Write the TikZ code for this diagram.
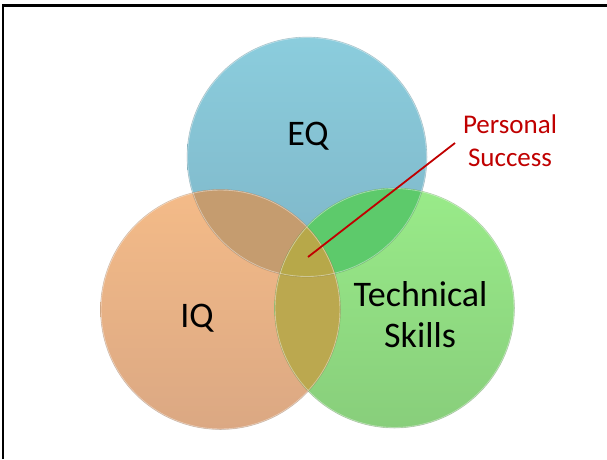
\documentclass[tikz,border=0pt]{standalone}
\usepackage{fontspec}
\setmainfont{Carlito}
\definecolor{eqtop}{HTML}{8BCDDD}
\definecolor{eqbot}{HTML}{7EB5C7}
\definecolor{iqtop}{HTML}{F4BB88}
\definecolor{iqbot}{HTML}{DBA883}
\definecolor{tstop}{HTML}{99EB89}
\definecolor{tsbot}{HTML}{88CE7B}
\definecolor{eqiq}{HTML}{C59C6F}
\definecolor{eqts}{HTML}{5DCA6B}
\definecolor{iqts}{HTML}{BBA84F}
\definecolor{trip}{HTML}{B7A849}
\definecolor{psred}{HTML}{C00000}
\begin{document}
\begin{tikzpicture}[x=1pt,y=-1pt,
  lbl/.style={font=\fontsize{36}{40}\selectfont, text=black, inner sep=0pt, anchor=base},
  pslbl/.style={font=\fontsize{27}{33}\selectfont, text=psred, inner sep=0pt, anchor=base},
  rim/.style={draw=white, draw opacity=0.45, line width=0.9pt},
  leader/.style={draw=psred, line width=1.8pt}]
\useasboundingbox (0,0) rectangle (607,459);
\fill[white] (0,0) rectangle (607,459);
% frame
\draw[line width=2.2pt, black] (3,459) -- (3,5.5) -- (607,5.5);
% centres
\coordinate (ceq) at (307,157);
\coordinate (ciq) at (220.5,309.5);
\coordinate (cts) at (394.5,308);
% base circles
\shade[top color=eqtop, bottom color=eqbot] (ceq) circle[radius=120pt];
\shade[top color=iqtop, bottom color=iqbot] (ciq) circle[radius=120pt];
\shade[top color=tstop, bottom color=tsbot] (cts) circle[radius=120pt];
% overlaps
\begin{scope}
  \clip (ceq) circle[radius=120pt];
  \fill[eqiq] (ciq) circle[radius=120pt];
  \fill[eqts] (cts) circle[radius=120pt];
\end{scope}
\begin{scope}
  \clip (ciq) circle[radius=120pt];
  \fill[iqts] (cts) circle[radius=120pt];
\end{scope}
\begin{scope}
  \clip (ceq) circle[radius=120pt];
  \clip (ciq) circle[radius=120pt];
  \fill[trip] (cts) circle[radius=120pt];
\end{scope}
% rims
\draw[rim] (ceq) circle[radius=119.5pt];
\draw[rim] (ciq) circle[radius=119.5pt];
\draw[rim] (cts) circle[radius=119.5pt];
\draw[black, opacity=0.12, line width=0.7pt] (ceq) circle[radius=120pt];
\draw[black, opacity=0.12, line width=0.7pt] (ciq) circle[radius=120pt];
\draw[black, opacity=0.12, line width=0.7pt] (cts) circle[radius=120pt];
% labels
\node[lbl] (eq) at (308,145) {EQ};
\node[lbl] (iq) at (197,327) {IQ};
\node[lbl] (ts1) at (420.5,306) {Technical};
\node[lbl] (ts2) at (420,347) {Skills};
\node[pslbl] (ps1) at (510,133) {Personal};
\node[pslbl] (ps2) at (510,166) {Success};
% leader line
\coordinate (lstart) at (455,143);
\coordinate (lend) at (308,257);
\draw[leader] (lstart) -- (lend);
\end{tikzpicture}
\end{document}
